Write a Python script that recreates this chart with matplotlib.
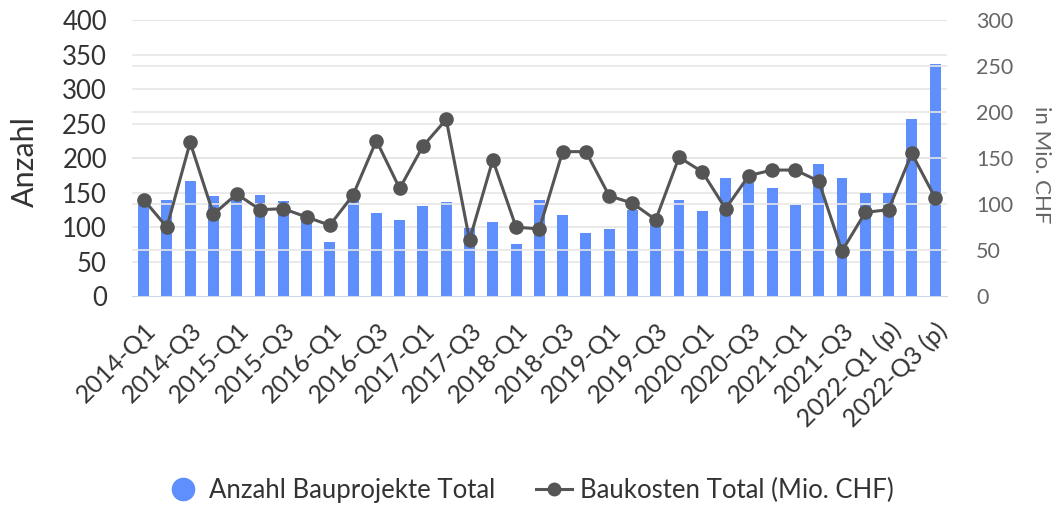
import matplotlib
matplotlib.use("Agg")
import matplotlib.pyplot as plt
from matplotlib.lines import Line2D
import numpy as np

plt.rcParams['font.family'] = ['Lato', 'DejaVu Sans']

# ========== Daten ==========
quartale = []
for jahr in range(2014, 2023):
    for q in range(1, 5):
        suffix = " (p)" if jahr == 2022 else ""
        quartale.append(f"{jahr}-Q{q}{suffix}")
quartale = quartale[:35]  # bis 2022-Q3 (p)

anzahl_bauprojekte = [138, 140, 167, 145, 142, 147, 138, 118, 79, 145,
                      121, 111, 131, 137, 99, 108, 76, 140, 118, 92,
                      97, 125, 112, 140, 124, 171, 164, 156, 132, 192,
                      171, 150, 150, 256, 336]

baukosten_total = [105, 75, 167, 89, 111, 94, 95, 86, 77, 110,
                   169, 117, 163, 192, 61, 148, 75, 73, 157, 157,
                   109, 101, 83, 151, 135, 95, 131, 137, 137, 125,
                   49, 91, 94, 155, 107]

BAR_COLOR = '#5f8ffc'
LINE_COLOR = '#555555'
GRID_COLOR = '#e6e6e6'

# ========== Grafik ==========
fig = plt.figure(figsize=(10.59, 5.08), dpi=100)
ax = fig.add_axes([0.1246, 0.417, 0.7694, 0.5436])
ax2 = ax.twinx()

x = np.arange(len(quartale))
ax.bar(x, anzahl_bauprojekte, width=0.47, color=BAR_COLOR, zorder=2)
ax2.plot(x, baukosten_total, color=LINE_COLOR, linewidth=2.2, marker='o',
         markersize=9.5, zorder=3)

ax.set_xlim(-0.5, len(quartale) - 0.5)
ax.set_ylim(0, 400)
ax2.set_ylim(0, 300)
ax.set_yticks(range(0, 401, 50))
ax2.set_yticks(range(0, 301, 50))

# Gitterlinien beider Achsen
for val in range(50, 401, 50):
    ax.axhline(val, color=GRID_COLOR, linewidth=1.2, zorder=0)
for val in range(50, 301, 50):
    ax2.axhline(val, color=GRID_COLOR, linewidth=1.2, zorder=0)
ax.set_zorder(ax2.get_zorder() - 1)
ax2.patch.set_visible(False)
ax.patch.set_visible(False)

for a in (ax, ax2):
    for side in ('top', 'left', 'right'):
        a.spines[side].set_visible(False)
ax.spines['bottom'].set_color('#ccd6eb')
ax2.spines['bottom'].set_visible(False)

ax.tick_params(axis='y', length=0, labelsize=18.5, labelcolor='#333333', pad=18)
ax2.tick_params(axis='y', length=0, labelsize=15.5, labelcolor='#666666', pad=21)

ax.set_xticks(x[::2])
ax.set_xticklabels(quartale[::2], rotation=45, ha='right',
                   rotation_mode='anchor', fontsize=18, color='#333333')
ax.tick_params(axis='x', length=0, pad=16)

ax.set_ylabel('Anzahl', fontsize=22, color='#333333', va='center')
ax.yaxis.set_label_coords(-0.131, 0.489)
ax2.set_ylabel('in Mio. CHF', fontsize=16, color='#666666', rotation=270,
               va='center')
ax2.yaxis.set_label_coords(1.116, 0.475)

# Legende
handles = [
    Line2D([], [], linestyle='none', marker='o', markersize=16,
           markerfacecolor=BAR_COLOR, markeredgecolor=BAR_COLOR),
    Line2D([], [], color=LINE_COLOR, linewidth=2.2, marker='o', markersize=9),
]
fig.legend(handles, ['Anzahl Bauprojekte Total', 'Baukosten Total (Mio. CHF)'],
           loc='center', bbox_to_anchor=(0.5, 0.035), ncol=2, frameon=False,
           fontsize=18.5, handlelength=1.4, handletextpad=0.3, columnspacing=1.6,
           labelcolor='#333333')

fig.savefig('out.png', dpi=100)
